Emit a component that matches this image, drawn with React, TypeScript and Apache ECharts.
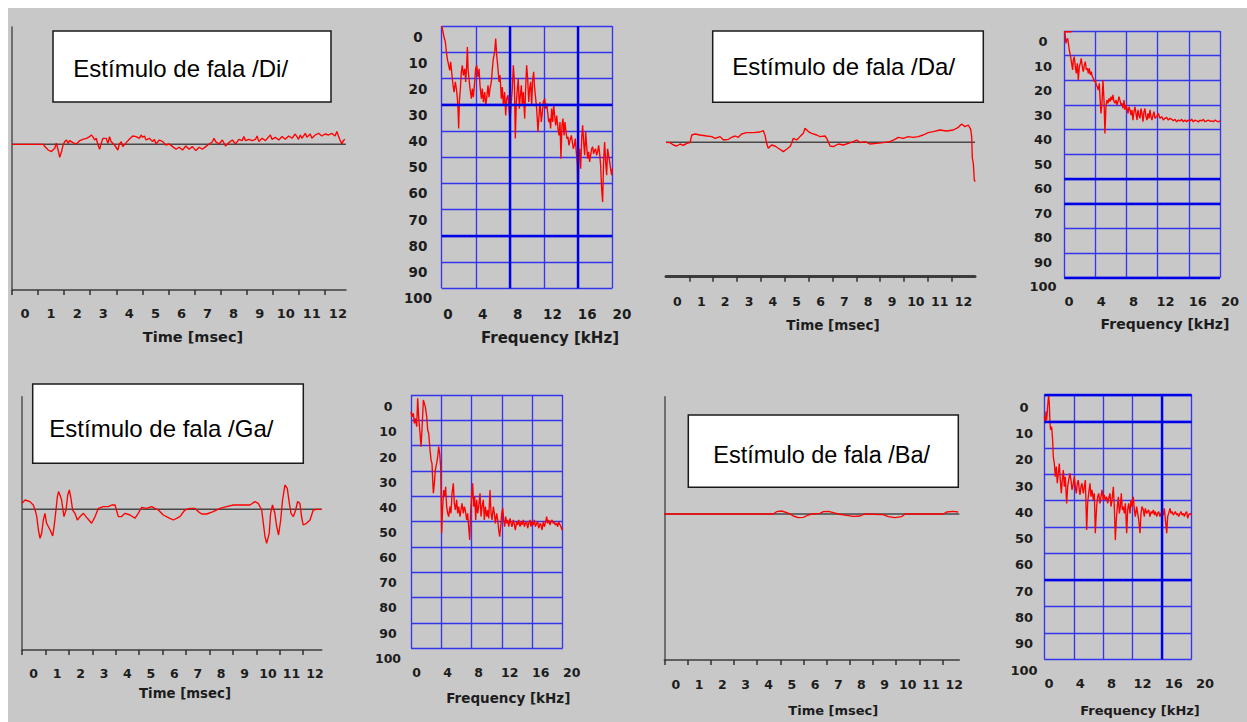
import React, { useEffect, useRef } from "react";
import * as echarts from "echarts";

// ---------------- data ----------------
const timeLabels = [0, 1, 2, 3, 4, 5, 6, 7, 8, 9, 10, 11, 12];
const freqLabels = [0, 4, 8, 12, 16, 20];
const levelLabels = [0, 10, 20, 30, 40, 50, 60, 70, 80, 90, 100];
const stimulusTitles = [
  "Estímulo de fala /Di/",
  "Estímulo de fala /Da/",
  "Estímulo de fala /Ga/",
  "Estímulo de fala /Ba/",
];
const timeAxisTitle = "Time [msec]";
const freqAxisTitle = "Frequency [kHz]";

// time waveforms: [ms, amplitude (arbitrary units)]
const waveDi: number[][] = [
  [-0.5, 0], [0.7, 0], [0.76, -0.23], [0.89, -0.57], [1.01, -0.73], [1.14, -0.4], [1.2, 0.1], [1.27, -0.57], [1.33, -1.3], [1.4, -0.73],
  [1.46, -0.07], [1.52, 0.27], [1.59, 0.43], [1.65, 0.1], [1.71, 0.37], [1.84, 0.17], [1.97, 0.03], [2.1, 0.37], [2.22, 0.5], [2.35, 0.6],
  [2.48, 0.77], [2.54, 0.93], [2.6, 0.77], [2.67, 0.43], [2.73, 0.6], [2.8, -0.07], [2.86, -0.5], [2.92, 0.1], [2.99, 0.6], [3.11, 0.6],
  [3.18, 0.1], [3.24, 0.77], [3.3, 0.27], [3.43, -0.07], [3.56, -0.57], [3.62, 0.03], [3.69, 0.27], [3.75, -0.23], [3.88, 0.17], [4.0, 0.5],
  [4.13, 0.83], [4.26, 0.77], [4.39, 0.6], [4.45, 0.93], [4.51, 0.7], [4.58, 0.83], [4.64, 0.43], [4.77, 0.6], [4.89, 0.27], [4.96, 0.5],
  [5.02, 0.03], [5.15, 0.43], [5.28, 0.27], [5.4, -0.07], [5.53, 0.03], [5.66, -0.23], [5.79, -0.5], [5.91, -0.3], [6.04, -0.57], [6.17, -0.17],
  [6.29, -0.5], [6.42, -0.23], [6.55, -0.63], [6.68, -0.3], [6.8, -0.5], [6.93, -0.23], [7.06, 0.03], [7.18, 0.23], [7.25, 0.6], [7.31, 0.27],
  [7.44, 0.03], [7.57, 0.43], [7.69, -0.17], [7.82, 0.17], [7.95, 0.43], [8.08, 0.03], [8.2, 0.5], [8.33, 0.37], [8.39, 0.77], [8.46, 0.37],
  [8.58, 0.5], [8.71, 0.37], [8.84, 0.5], [8.9, 0.83], [8.97, 0.27], [9.09, 0.6], [9.22, 0.37], [9.35, 0.77], [9.41, 0.93], [9.47, 0.5],
  [9.6, 0.7], [9.73, 0.43], [9.86, 0.77], [9.98, 0.5], [10.11, 0.83], [10.24, 0.6], [10.36, 1.03], [10.49, 0.5], [10.56, 0.93], [10.62, 0.6],
  [10.75, 1.1], [10.81, 0.7], [10.94, 1.03], [11.0, 0.6], [11.13, 0.93], [11.26, 1.1], [11.38, 0.83], [11.51, 1.03], [11.64, 0.93], [11.76, 1.1],
  [11.89, 0.83], [11.96, 1.27], [12.02, 0.83], [12.08, 0.43], [12.15, 0.03], [12.21, 0.37], [12.27, 0.5],
];

const waveDa: number[][] = [
  [-0.48, 0], [-0.31, -0.03], [-0.17, -0.27], [-0.03, -0.37], [0.11, -0.17], [0.25, -0.3], [0.39, -0.1], [0.53, -0.03], [0.6, 0.73], [0.74, 0.83],
  [0.95, 0.73], [1.23, 0.63], [1.44, 0.57], [1.58, 0.4], [1.79, 0.57], [1.93, 0.23], [2.14, 0.3], [2.27, 0.5], [2.42, 0.63], [2.55, 0.5],
  [2.69, 0.83], [2.9, 0.97], [3.18, 0.97], [3.46, 1.03], [3.6, 1.17], [3.67, 0.73], [3.74, -0.1], [3.81, -0.6], [3.95, -0.27], [4.09, -0.37],
  [4.23, -0.6], [4.44, -0.93], [4.58, -0.7], [4.72, -0.43], [4.79, -0.1], [4.86, 0.4], [5.0, 0.23], [5.14, 0.57], [5.28, 0.9], [5.35, 1.4],
  [5.49, 1.07], [5.63, 0.9], [5.84, 0.73], [5.98, 0.57], [6.19, 0.63], [6.26, 0.4], [6.4, -0.37], [6.54, -0.43], [6.75, -0.17], [6.96, -0.27],
  [7.17, -0.1], [7.38, 0.07], [7.52, 0.23], [7.66, -0.03], [7.87, 0.07], [8.07, -0.17], [8.35, -0.1], [8.63, -0.03], [8.91, 0.07], [9.12, 0.3],
  [9.26, 0.5], [9.47, 0.4], [9.68, 0.57], [9.89, 0.5], [10.1, 0.57], [10.31, 0.73], [10.52, 0.97], [10.73, 1.07], [11.01, 1.23], [11.29, 1.13],
  [11.57, 1.23], [11.78, 1.5], [11.92, 1.83], [12.06, 1.57], [12.2, 1.73], [12.3, 1.3], [12.34, 0.57], [12.37, -1.6], [12.41, -2.1], [12.45, -3.77],
  [12.49, -3.93],
];

const waveGa: number[][] = [
  [-0.5, 0.6], [-0.37, 0.93], [-0.16, 0.77], [-0.02, 0.43], [0.06, -0.07], [0.13, -0.73], [0.2, -2.07], [0.27, -2.9], [0.34, -2.4], [0.41, -1.07],
  [0.48, -0.4], [0.55, -1.4], [0.7, -2.07], [0.81, -2.67], [0.87, -1.73], [0.95, -0.07], [1.01, 1.27], [1.06, 1.77], [1.12, 1.43], [1.19, 0.93],
  [1.29, -0.73], [1.38, -0.07], [1.45, 1.43], [1.52, 1.93], [1.59, 1.1], [1.66, -0.07], [1.76, -0.4], [1.86, -1.07], [1.98, -0.73], [2.12, -0.4],
  [2.29, -0.9], [2.47, -1.4], [2.62, -0.73], [2.76, 0.1], [2.97, 0.27], [3.18, 0.27], [3.33, 0.43], [3.47, 0.43], [3.61, -0.73], [3.75, -0.73],
  [3.9, -0.4], [4.11, -0.57], [4.32, -0.9], [4.46, -0.4], [4.61, 0.2], [4.82, 0.1], [5.03, 0.27], [5.17, 0.1], [5.32, -0.07], [5.53, -0.57],
  [5.81, -0.9], [5.96, -1.07], [6.24, -0.73], [6.45, -0.07], [6.67, 0.1], [6.88, 0.1], [7.02, -0.23], [7.17, -0.47], [7.38, -0.47], [7.66, -0.23],
  [7.95, 0.1], [8.23, 0.27], [8.52, 0.43], [8.8, 0.43], [9.23, 0.43], [9.44, 0.77], [9.58, 0.6], [9.73, -0.07], [9.8, -1.4], [9.87, -2.73],
  [9.94, -3.4], [10.05, -2.4], [10.11, -0.4], [10.19, 0.43], [10.29, -0.4], [10.37, -1.73], [10.45, -2.57], [10.54, -1.07], [10.62, 0.93], [10.72, 2.43],
  [10.82, 2.1], [10.91, 0.6], [10.98, -0.4], [11.08, -0.73], [11.18, -0.07], [11.26, 0.77], [11.36, 0.6], [11.43, -0.73], [11.5, -1.57], [11.64, -1.4],
  [11.79, -1.07], [11.93, -0.07], [12.07, 0], [12.28, 0],
];

const waveBa: number[][] = [
  [-0.5, 0], [4.2, 0], [4.34, 0.23], [4.56, 0.3], [4.78, 0.13], [4.92, 0], [5.06, -0.2], [5.28, -0.37], [5.49, -0.33], [5.71, -0.1],
  [5.85, 0], [6.21, 0.07], [6.36, 0.23], [6.57, 0.27], [6.79, 0.13], [7.0, 0], [7.36, -0.13], [7.65, -0.23], [7.94, -0.2], [8.15, 0],
  [8.94, -0.07], [9.16, -0.27], [9.44, -0.37], [9.73, -0.27], [9.88, 0], [11.53, 0], [11.67, 0.2], [11.96, 0.27], [12.17, 0.2],
];

// spectra: [kHz, dB]
const specDi: number[][] = [
  [0.0, 0], [0.08, 1.0], [0.27, 4.2], [0.43, 6.1], [0.55, 9.9], [0.66, 12.5], [0.82, 15.0], [0.94, 16.9], [1.05, 13.7], [1.21, 18.8],
  [1.33, 22.6], [1.45, 25.2], [1.6, 21.3], [1.72, 23.9], [1.84, 27.7], [1.91, 31.5], [1.99, 39.1], [2.07, 29.0], [2.19, 23.9], [2.3, 17.5],
  [2.42, 15.0], [2.54, 18.8], [2.7, 16.3], [2.81, 21.3], [2.93, 15.0], [3.01, 8.0], [3.09, 16.3], [3.2, 20.1], [3.32, 23.9], [3.48, 27.7],
  [3.59, 23.9], [3.71, 27.1], [3.87, 21.3], [3.98, 16.3], [4.1, 15.0], [4.26, 19.4], [4.38, 16.3], [4.49, 22.6], [4.65, 27.7], [4.77, 23.9],
  [4.88, 29.0], [5.04, 25.2], [5.16, 30.2], [5.27, 27.7], [5.43, 22.6], [5.55, 27.1], [5.66, 23.9], [5.82, 21.3], [5.94, 16.3], [6.05, 12.5],
  [6.21, 9.9], [6.33, 4.8], [6.45, 11.2], [6.6, 16.3], [6.72, 21.3], [6.84, 18.8], [6.99, 27.7], [7.11, 23.3], [7.23, 30.2], [7.38, 25.2],
  [7.5, 34.1], [7.62, 27.7], [7.77, 26.4], [7.89, 31.5], [8.01, 36.6], [8.16, 29.0], [8.28, 23.9], [8.4, 15.0], [8.52, 21.3], [8.63, 42.9],
  [8.75, 29.0], [8.87, 23.9], [8.98, 20.1], [9.1, 31.5], [9.22, 26.4], [9.34, 22.6], [9.45, 30.2], [9.57, 25.2], [9.73, 35.3], [9.84, 23.9],
  [9.96, 15.0], [10.08, 20.1], [10.2, 29.0], [10.31, 23.9], [10.43, 21.3], [10.55, 30.2], [10.66, 20.7], [10.78, 17.5], [10.9, 23.9], [11.02, 27.7],
  [11.13, 31.5], [11.29, 40.4], [11.41, 34.1], [11.52, 29.0], [11.68, 36.6], [11.8, 32.8], [11.91, 29.0], [12.07, 27.7], [12.19, 31.5], [12.3, 29.6],
  [12.42, 32.8], [12.54, 36.6], [12.66, 35.3], [12.77, 39.1], [12.89, 31.5], [13.01, 36.6], [13.13, 30.2], [13.24, 34.1], [13.36, 37.9], [13.48, 34.1],
  [13.63, 39.1], [13.75, 41.7], [13.87, 36.6], [13.98, 50.6], [14.1, 37.9], [14.22, 35.3], [14.34, 41.7], [14.45, 36.6], [14.57, 40.4], [14.69, 43.0],
  [14.8, 42.3], [14.92, 45.5], [15.04, 43.6], [15.2, 41.7], [15.31, 44.2], [15.43, 46.8], [15.55, 45.5], [15.66, 42.9], [15.78, 48.0], [15.9, 53.1],
  [15.98, 68.4], [16.05, 51.8], [16.17, 46.8], [16.29, 54.4], [16.41, 42.9], [16.52, 37.9], [16.64, 44.2], [16.76, 49.3], [16.88, 40.4], [16.99, 45.5],
  [17.11, 50.6], [17.23, 48.0], [17.34, 51.8], [17.46, 49.3], [17.58, 46.8], [17.7, 46.1], [17.81, 48.7], [17.93, 47.4], [18.05, 46.8], [18.16, 49.3],
  [18.28, 48.0], [18.4, 45.5], [18.52, 48.7], [18.63, 53.1], [18.75, 62.0], [18.87, 67.1], [18.98, 51.8], [19.1, 44.2], [19.22, 51.8], [19.34, 56.9],
  [19.45, 46.8], [19.57, 49.3], [19.69, 51.8], [19.8, 54.4], [19.92, 56.9], [20.0, 54.4],
];

const specDa: number[][] = [
  [0.94, 0.3], [0.02, 0.3], [0.09, 0.9], [0.21, 5.0], [0.3, 3.6], [0.43, 3.0], [0.56, 5.7], [0.64, 7.7], [0.81, 10.4], [0.94, 13.1],
  [1.07, 15.8], [1.16, 11.8], [1.28, 10.4], [1.41, 14.5], [1.54, 17.2], [1.67, 13.1], [1.8, 19.9], [1.93, 14.5], [2.06, 13.1], [2.18, 11.1],
  [2.31, 14.5], [2.44, 16.5], [2.57, 13.8], [2.7, 12.4], [2.83, 15.8], [2.96, 15.1], [3.08, 17.2], [3.21, 15.1], [3.34, 17.8], [3.47, 16.5],
  [3.6, 18.5], [3.73, 19.2], [3.85, 20.5], [3.98, 19.9], [4.11, 21.9], [4.24, 22.6], [4.37, 23.9], [4.5, 21.2], [4.58, 26.6], [4.71, 33.4],
  [4.84, 29.3], [4.97, 19.9], [5.1, 28.0], [5.22, 41.5], [5.35, 30.7], [5.48, 28.0], [5.61, 29.3], [5.74, 27.3], [5.87, 28.6], [6.0, 26.6],
  [6.12, 28.0], [6.25, 25.9], [6.38, 28.6], [6.51, 29.3], [6.64, 28.0], [6.77, 30.0], [6.9, 28.6], [7.02, 26.6], [7.15, 28.0], [7.28, 30.0],
  [7.41, 29.3], [7.54, 31.4], [7.67, 28.0], [7.79, 32.0], [7.92, 30.0], [8.05, 31.4], [8.18, 33.4], [8.31, 30.7], [8.44, 32.0], [8.57, 34.1],
  [8.69, 32.0], [8.82, 36.1], [8.95, 32.7], [9.08, 30.7], [9.21, 33.4], [9.34, 36.1], [9.46, 32.0], [9.59, 34.1], [9.72, 35.4], [9.85, 31.4],
  [9.98, 33.4], [10.11, 36.8], [10.24, 32.7], [10.36, 31.4], [10.49, 34.7], [10.62, 36.1], [10.75, 33.4], [10.88, 35.4], [11.01, 32.0], [11.13, 34.7],
  [11.26, 36.1], [11.39, 34.1], [11.52, 32.7], [11.65, 35.4], [11.86, 34.7], [12.08, 33.4], [12.29, 35.4], [12.51, 34.7], [12.72, 36.1], [12.93, 35.4],
  [13.15, 35.0], [13.36, 36.1], [13.58, 35.4], [13.79, 35.8], [14.0, 36.4], [14.22, 35.8], [14.43, 36.8], [14.65, 36.1], [14.86, 36.5], [15.07, 35.8],
  [15.29, 36.8], [15.5, 36.1], [15.72, 36.8], [15.93, 36.1], [16.15, 36.5], [16.36, 35.7], [16.57, 36.8], [16.79, 36.1], [17.0, 36.4], [17.22, 36.9],
  [17.43, 36.1], [17.64, 36.5], [17.86, 35.8], [18.07, 36.8], [18.29, 36.4], [18.5, 36.1], [18.72, 36.6], [18.93, 36.4], [19.14, 36.8], [19.36, 36.1],
  [19.57, 36.5], [19.79, 36.8], [20.0, 36.4],
];

const specGa: number[][] = [
  [0.0, 6.6], [0.13, 8.6], [0.31, 7.2], [0.44, 11.2], [0.57, 9.2], [0.75, 12.5], [0.88, 1.3], [1.01, 8.6], [1.19, 15.1], [1.32, 20.4],
  [1.45, 13.8], [1.63, 2.0], [1.76, 3.3], [1.89, 4.6], [2.07, 8.6], [2.2, 13.8], [2.33, 15.1], [2.51, 21.7], [2.64, 25.7], [2.77, 27.0],
  [2.86, 33.6], [2.95, 38.8], [3.08, 34.9], [3.21, 29.6], [3.38, 27.0], [3.52, 24.3], [3.65, 20.4], [3.78, 23.0], [3.91, 28.3], [4.04, 54.6],
  [4.18, 44.1], [4.31, 37.5], [4.44, 40.1], [4.57, 36.2], [4.7, 44.1], [4.84, 46.7], [4.97, 48.0], [5.14, 44.1], [5.27, 46.7], [5.41, 38.8],
  [5.58, 34.9], [5.71, 42.8], [5.85, 45.4], [6.02, 41.4], [6.15, 46.7], [6.29, 44.1], [6.46, 48.0], [6.59, 45.4], [6.73, 42.8], [6.9, 46.7],
  [7.03, 44.1], [7.16, 45.4], [7.34, 49.3], [7.47, 46.7], [7.6, 52.0], [7.74, 57.2], [7.87, 45.4], [8.0, 40.1], [8.13, 34.9], [8.26, 44.1],
  [8.4, 40.1], [8.53, 49.3], [8.66, 41.4], [8.79, 46.7], [8.92, 44.1], [9.1, 38.8], [9.23, 48.0], [9.36, 44.1], [9.54, 41.4], [9.67, 49.3],
  [9.8, 44.1], [9.98, 48.0], [10.11, 45.4], [10.24, 48.7], [10.42, 37.5], [10.55, 46.7], [10.68, 49.3], [10.86, 44.1], [10.99, 46.7], [11.12, 50.7],
  [11.3, 46.7], [11.43, 49.3], [11.56, 53.3], [11.69, 55.9], [11.82, 52.0], [11.96, 46.7], [12.09, 44.7], [12.22, 49.3], [12.35, 52.0], [12.48, 48.0],
  [12.62, 50.7], [12.75, 49.3], [12.88, 52.0], [13.05, 48.7], [13.19, 50.7], [13.32, 52.0], [13.49, 49.3], [13.63, 51.3], [13.76, 53.3], [13.93, 50.0],
  [14.07, 51.3], [14.2, 49.3], [14.37, 52.0], [14.51, 50.0], [14.64, 51.3], [14.81, 49.3], [14.95, 52.0], [15.08, 50.7], [15.25, 50.0], [15.38, 52.6],
  [15.52, 50.7], [15.69, 49.3], [15.82, 52.0], [15.96, 50.0], [16.13, 51.3], [16.26, 49.3], [16.4, 52.0], [16.57, 50.7], [16.7, 50.0], [16.84, 52.6],
  [17.01, 50.7], [17.14, 51.3], [17.27, 53.3], [17.45, 50.0], [17.58, 52.0], [17.71, 50.7], [17.89, 48.0], [18.02, 50.7], [18.15, 49.3], [18.33, 51.3],
  [18.46, 50.0], [18.59, 49.3], [18.77, 50.7], [18.9, 50.0], [19.03, 51.3], [19.21, 50.7], [19.34, 52.0], [19.47, 50.0], [19.65, 51.3], [19.78, 52.0],
  [19.91, 53.3], [20.0, 52.6],
];

const specBa: number[][] = [
  [0.0, 8.2], [0.14, 10.1], [0.23, 6.3], [0.32, 9.5], [0.45, 4.4], [0.59, 0], [0.68, 3.2], [0.77, 10.7], [0.86, 13.2], [1.0, 12.0],
  [1.13, 17.0], [1.22, 23.3], [1.36, 25.9], [1.49, 30.9], [1.63, 27.1], [1.76, 33.4], [1.9, 29.6], [2.04, 25.9], [2.17, 32.2], [2.31, 37.2],
  [2.44, 32.2], [2.58, 28.4], [2.71, 34.7], [2.85, 30.9], [3.03, 41.0], [3.17, 34.7], [3.3, 32.2], [3.48, 29.6], [3.62, 32.2], [3.76, 35.9],
  [3.94, 33.4], [4.07, 30.9], [4.21, 34.7], [4.34, 37.2], [4.48, 33.4], [4.62, 32.2], [4.75, 35.9], [4.84, 37.8], [4.98, 34.7], [5.11, 33.4],
  [5.29, 37.2], [5.43, 34.7], [5.57, 32.2], [5.75, 51.1], [5.88, 41.0], [6.02, 37.2], [6.2, 33.4], [6.33, 38.5], [6.47, 35.9], [6.65, 39.7],
  [6.79, 37.2], [6.92, 52.3], [7.1, 42.2], [7.24, 38.5], [7.38, 37.2], [7.56, 41.0], [7.69, 38.5], [7.83, 35.9], [8.01, 39.7], [8.14, 37.8],
  [8.28, 39.7], [8.46, 38.5], [8.6, 41.0], [8.73, 39.1], [8.91, 37.2], [9.05, 42.2], [9.19, 39.7], [9.37, 34.7], [9.5, 42.2], [9.64, 54.9],
  [9.77, 47.3], [9.91, 42.2], [10.05, 38.5], [10.18, 44.8], [10.32, 42.2], [10.45, 37.2], [10.59, 43.5], [10.72, 42.2], [10.86, 44.8], [11.0, 41.0],
  [11.18, 52.3], [11.31, 43.5], [11.45, 41.0], [11.63, 44.8], [11.76, 39.7], [11.9, 42.2], [12.08, 38.5], [12.22, 43.5], [12.35, 46.0], [12.53, 42.2],
  [12.67, 44.8], [12.81, 47.3], [12.99, 52.3], [13.12, 44.8], [13.26, 42.2], [13.44, 43.5], [13.57, 46.0], [13.71, 42.9], [13.89, 44.8], [14.03, 44.1],
  [14.16, 43.5], [14.34, 46.0], [14.48, 44.1], [14.62, 44.8], [14.8, 43.5], [14.93, 45.4], [15.07, 44.1], [15.25, 46.0], [15.38, 44.8], [15.52, 44.1],
  [15.7, 46.0], [15.84, 44.8], [15.97, 44.1], [16.15, 45.4], [16.29, 42.9], [16.43, 47.3], [16.61, 52.3], [16.74, 46.0], [16.88, 44.8], [17.06, 42.9],
  [17.19, 44.8], [17.33, 44.1], [17.51, 45.4], [17.65, 44.8], [17.78, 44.1], [17.96, 45.4], [18.1, 44.8], [18.24, 46.0], [18.42, 44.8], [18.55, 44.1],
  [18.69, 45.4], [18.87, 44.8], [19.0, 46.0], [19.14, 44.8], [19.32, 44.1], [19.46, 46.7], [19.59, 45.4], [19.77, 44.8], [20.0, 45.4],
];

// ---------------- layout / style ----------------
const OFF = 8;
const p = (v: number) => v - OFF;
const LABEL_FONT = '"DejaVu Sans", Verdana, sans-serif';
const BOX_FONT = '"Liberation Sans", Arial, Helvetica, sans-serif';
const RED = "#ff0000";
const BLUE_THIN = "#3535f0";
const BLUE_THICK = "#0000e6";
const LABEL_COLOR = "#1c1c1c";

const timePanels = [
  { wave: waveDi, title: stimulusTitles[0], left: 12, top: 27, right: 346, bottom: 290, y0: 144.3, xMin: -0.5, xMax: 12.31, firstTick: 0, yLine: true, axisWidth: 1.5, labelMargin: 23, labelSize: 13, nameX: 193, nameY: 337, nameSize: 14.5, box: [53, 31, 278, 71], textX: 73.3, textY: 68, textSize: 24 },
  { wave: waveDa, title: stimulusTitles[1], left: 666, top: 27, right: 975, bottom: 276.7, y0: 142.3, xMin: -0.48, xMax: 12.48, firstTick: 1, yLine: false, axisWidth: 3, labelMargin: 25, labelSize: 12.5, nameX: 833, nameY: 325, nameSize: 13.5, box: [712.7, 31, 270.6, 71.3], textX: 732.3, textY: 66.7, textSize: 24 },
  { wave: waveGa, title: stimulusTitles[2], left: 22, top: 396.7, right: 321.7, bottom: 650, y0: 509.3, xMin: -0.5, xMax: 12.29, firstTick: 0, yLine: true, axisWidth: 1.5, labelMargin: 23.3, labelSize: 12.5, nameX: 185, nameY: 693.3, nameSize: 13.3, box: [32.7, 384, 270.6, 79.3], textX: 49.3, textY: 428.3, textSize: 24 },
  { wave: waveBa, title: stimulusTitles[3], left: 664.3, top: 396.7, right: 959.3, bottom: 660, y0: 514, xMin: -0.5, xMax: 12.22, firstTick: 0, yLine: true, axisWidth: 1.5, labelMargin: 24.3, labelSize: 12.5, nameX: 833.3, nameY: 710, nameSize: 13, box: [688.3, 415, 270, 72.3], textX: 713.3, textY: 455, textSize: 23.5 },
];

const specPanels = [
  { spec: specDi, box: [441.7, 26, 170.6, 262.3], lab: [448, 36.7, 174, 261.3], yMargin: 30, xMargin: 15.5, labelSize: 13.5, thickY: [30, 80], thickX: [8, 16], nameX: 550, nameY: 338, nameSize: 15 },
  { spec: specDa, box: [1064.3, 31, 155.7, 246.7], lab: [1069, 41.7, 161, 245], yMargin: 26, xMargin: 15, labelSize: 13, thickY: [60, 70, 100], thickX: [], nameX: 1165, nameY: 324, nameSize: 14 },
  { spec: specGa, box: [411, 395, 151.7, 253.3], lab: [416.7, 406.7, 155, 251.6], yMargin: 28.7, xMargin: 14.4, labelSize: 12.5, thickY: [], thickX: [], nameX: 508.3, nameY: 698.3, nameSize: 13.5 },
  { spec: specBa, box: [1044.3, 395, 147.4, 264.3], lab: [1049, 407.3, 156, 262.7], yMargin: 25, xMargin: 13.3, labelSize: 13, thickY: [0, 10, 70], thickX: [16], nameX: 1140, nameY: 710, nameSize: 13 },
];

function buildOption() {
  const grid: any[] = [];
  const xAxis: any[] = [];
  const yAxis: any[] = [];
  const series: any[] = [];
  const graphic: any[] = [];

  const hidden = { show: false };
  const axisTitle = (text: string, x: number, y: number, size: number) => ({
    type: "text",
    x: p(x),
    y: p(y),
    z: 20,
    silent: true,
    style: { text, fontFamily: LABEL_FONT, fontWeight: "bold", fontSize: size, fill: LABEL_COLOR, align: "center", verticalAlign: "middle" },
  });

  timePanels.forEach((tp) => {
    grid.push({ left: p(tp.left), top: p(tp.top), width: tp.right - tp.left, height: tp.bottom - tp.top, containLabel: false, outerBoundsMode: "none" });
    const gi = grid.length - 1;
    xAxis.push({
      gridIndex: gi, type: "value", min: tp.xMin, max: tp.xMax,
      axisLine: { show: true, onZero: false, lineStyle: { color: "#3c3c3c", width: tp.axisWidth } },
      axisTick: { show: true, customValues: timeLabels.slice(tp.firstTick).map((v) => v - 0.5), length: 5, lineStyle: { color: "#303030", width: 1.5 } },
      axisLabel: { customValues: timeLabels, margin: tp.labelMargin, verticalAlign: "middle", fontFamily: LABEL_FONT, fontWeight: "bold", fontSize: tp.labelSize, color: LABEL_COLOR },
      splitLine: hidden,
    });
    yAxis.push({
      gridIndex: gi, type: "value", min: -(tp.bottom - tp.y0) / 10, max: (tp.y0 - tp.top) / 10,
      axisLine: { show: tp.yLine, onZero: false, lineStyle: { color: "#505050", width: 1.5 } },
      axisTick: hidden, axisLabel: hidden, splitLine: hidden,
    });
    series.push({ type: "line", xAxisIndex: gi, yAxisIndex: gi, data: [[tp.xMin, 0], [tp.xMax, 0]], symbol: "none", silent: true, z: 2, lineStyle: { color: "#484848", width: 1.5 } });
    series.push({ type: "line", xAxisIndex: gi, yAxisIndex: gi, data: tp.wave, symbol: "none", silent: true, z: 3, lineStyle: { color: RED, width: 1.35 } });

    graphic.push({
      type: "rect", z: 20, silent: true,
      shape: { x: p(tp.box[0]), y: p(tp.box[1]), width: tp.box[2], height: tp.box[3] },
      style: { fill: "#ffffff", stroke: "#1a1a1a", lineWidth: 1.5 },
    });
    graphic.push({
      type: "text", z: 21, silent: true, x: p(tp.textX), y: p(tp.textY),
      style: { text: tp.title, fontFamily: BOX_FONT, fontSize: tp.textSize, fill: "#000", align: "left", verticalAlign: "middle" },
    });
    graphic.push(axisTitle(timeAxisTitle, tp.nameX, tp.nameY, tp.nameSize));
  });

  specPanels.forEach((sp) => {
    // box with blue grid
    grid.push({ left: p(sp.box[0]), top: p(sp.box[1]), width: sp.box[2], height: sp.box[3], containLabel: false, outerBoundsMode: "none" });
    const gi = grid.length - 1;
    xAxis.push({
      gridIndex: gi, type: "value", min: 0, max: 20, interval: 4,
      axisLine: { show: false, onZero: false }, axisTick: hidden, axisLabel: hidden,
      splitLine: { show: true, lineStyle: { color: BLUE_THIN, width: 1.35 } },
    });
    yAxis.push({
      gridIndex: gi, type: "value", inverse: true, min: 0, max: 100, interval: 10,
      axisLine: { show: false, onZero: false }, axisTick: hidden, axisLabel: hidden,
      splitLine: { show: true, lineStyle: { color: BLUE_THIN, width: 1.35 } },
    });
    const thick = [...sp.thickY.map((v) => ({ yAxis: v })), ...sp.thickX.map((v) => ({ xAxis: v }))];
    series.push({
      type: "line", xAxisIndex: gi, yAxisIndex: gi, data: sp.spec, symbol: "none", silent: true, z: 3,
      lineStyle: { color: RED, width: 1.35 },
      markLine: thick.length
        ? { silent: true, symbol: ["none", "none"], label: { show: false }, lineStyle: { color: BLUE_THICK, width: 2.4, type: "solid" }, data: thick }
        : undefined,
    });

    // tick labels (offset from the box, as in the source)
    grid.push({ left: p(sp.lab[0]), top: p(sp.lab[1]), width: sp.lab[2], height: sp.lab[3], containLabel: false, outerBoundsMode: "none" });
    const li = grid.length - 1;
    const labelStyle = { fontFamily: LABEL_FONT, fontWeight: "bold", fontSize: sp.labelSize, color: LABEL_COLOR };
    xAxis.push({
      gridIndex: li, type: "value", min: 0, max: 20, interval: 4,
      axisLine: { show: false, onZero: false }, axisTick: hidden, splitLine: hidden,
      axisLabel: { ...labelStyle, customValues: freqLabels, margin: sp.xMargin, verticalAlign: "middle" },
    });
    yAxis.push({
      gridIndex: li, type: "value", inverse: true, min: 0, max: 100, interval: 10,
      axisLine: { show: false, onZero: false }, axisTick: hidden, splitLine: hidden,
      axisLabel: { ...labelStyle, customValues: levelLabels, margin: sp.yMargin, align: "center" },
    });
    graphic.push(axisTitle(freqAxisTitle, sp.nameX, sp.nameY, sp.nameSize));
  });

  return {
    animation: false,
    backgroundColor: "#c8c8c8",
    grid,
    xAxis,
    yAxis,
    series,
    graphic: { elements: graphic },
  };
}

export default function App() {
  const ref = useRef<HTMLDivElement>(null);
  useEffect(() => {
    if (!ref.current) return;
    const chart = echarts.init(ref.current, null, { renderer: "svg" });
    chart.setOption(buildOption() as any);
    return () => chart.dispose();
  }, []);
  return <div ref={ref} style={{ position: "absolute", left: 8, top: 8, width: 1239, height: 714 }} />;
}
